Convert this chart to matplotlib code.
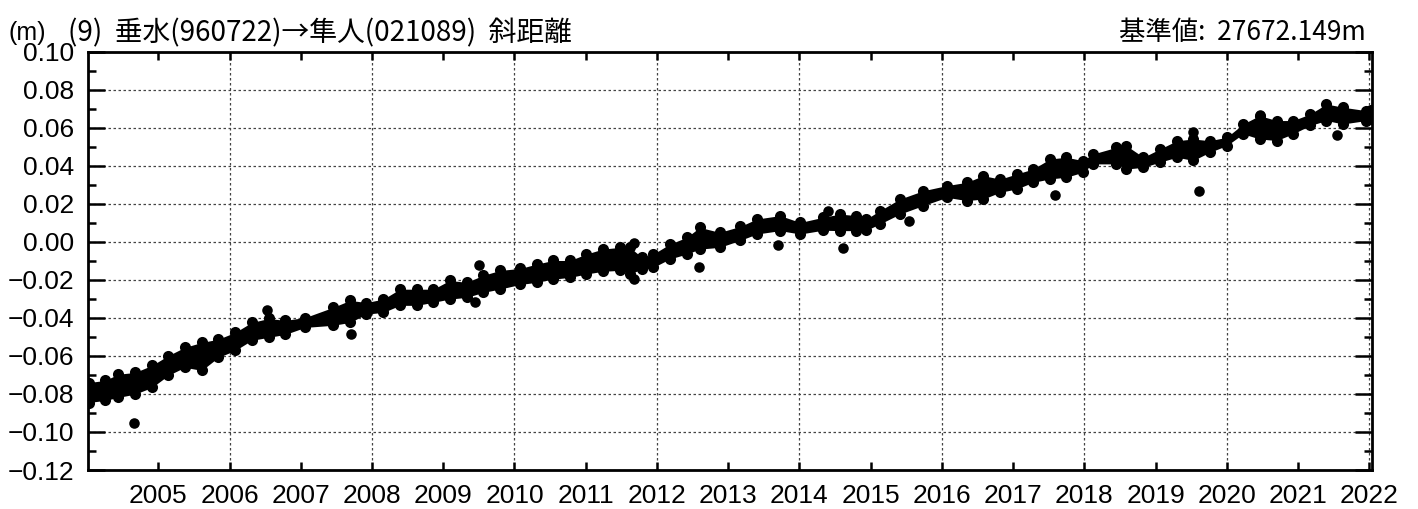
import matplotlib
matplotlib.use('Agg')
import matplotlib.pyplot as plt
from matplotlib.ticker import MultipleLocator, FuncFormatter

plt.rcParams['font.family'] = ['Liberation Sans', 'DejaVu Sans']

# sample times (decimal year) of the dense daily band
t = [2004.02, 2004.25, 2004.44, 2004.67, 2004.91, 2005.14, 2005.37, 2005.61, 2005.84,
     2006.08, 2006.31, 2006.55, 2006.78, 2007.06, 2007.45, 2007.69, 2007.92, 2008.16,
     2008.39, 2008.63, 2008.86, 2009.09, 2009.33, 2009.56, 2009.80, 2010.08, 2010.31,
     2010.54, 2010.78, 2011.01, 2011.24, 2011.48, 2011.62, 2011.79, 2011.95, 2012.18,
     2012.42, 2012.60, 2012.88, 2013.17, 2013.40, 2013.73, 2014.01, 2014.33, 2014.57,
     2014.80, 2014.94, 2015.13, 2015.41, 2015.74, 2016.07, 2016.35, 2016.58, 2016.82,
     2017.05, 2017.28, 2017.52, 2017.75, 2017.98, 2018.12, 2018.45, 2018.59, 2018.83,
     2019.06, 2019.30, 2019.53, 2019.76, 2020.00, 2020.23, 2020.46, 2020.70, 2020.93,
     2021.17, 2021.40, 2021.63, 2021.96, 2022.03]
# upper part of the band (m)
hi = [-0.0740, -0.0729, -0.0696, -0.0687, -0.0650, -0.0598, -0.0555, -0.0529, -0.0512,
      -0.0476, -0.0424, -0.0403, -0.0413, -0.0398, -0.0345, -0.0308, -0.0319, -0.0301,
      -0.0249, -0.0249, -0.0249, -0.0203, -0.0213, -0.0176, -0.0150, -0.0140, -0.0117,
      -0.0098, -0.0098, -0.0064, -0.0038, -0.0029, -0.0029, -0.0082, -0.0064, -0.0012,
      0.0024, 0.0076, 0.0050, 0.0081, 0.0120, 0.0138, 0.0102, 0.0129, 0.0146,
      0.0138, 0.0120, 0.0164, 0.0225, 0.0269, 0.0296, 0.0313, 0.0348, 0.0330,
      0.0357, 0.0383, 0.0436, 0.0445, 0.0427, 0.0462, 0.0497, 0.0506, 0.0445,
      0.0488, 0.0532, 0.0541, 0.0532, 0.0550, 0.0620, 0.0664, 0.0638, 0.0638,
      0.0672, 0.0725, 0.0708, 0.0690, 0.0692]
# lower part of the band (m)
lo = [-0.0845, -0.0834, -0.0818, -0.0801, -0.0766, -0.0702, -0.0660, -0.0676, -0.0608,
      -0.0571, -0.0518, -0.0502, -0.0487, -0.0450, -0.0439, -0.0424, -0.0380, -0.0371,
      -0.0334, -0.0334, -0.0318, -0.0301, -0.0292, -0.0266, -0.0248, -0.0224, -0.0213,
      -0.0196, -0.0187, -0.0169, -0.0155, -0.0150, -0.0169, -0.0143, -0.0134, -0.0090,
      -0.0064, -0.0038, -0.0029, 0.0008, 0.0041, 0.0059, 0.0041, 0.0061, 0.0059,
      0.0059, 0.0061, 0.0094, 0.0146, 0.0191, 0.0234, 0.0217, 0.0225, 0.0261,
      0.0278, 0.0313, 0.0331, 0.0340, 0.0366, 0.0410, 0.0410, 0.0383, 0.0392,
      0.0419, 0.0445, 0.0428, 0.0471, 0.0506, 0.0568, 0.0541, 0.0533, 0.0568,
      0.0612, 0.0638, 0.0620, 0.0638, 0.0645]
# isolated points
out_t = [2004.66, 2006.52, 2007.71, 2009.45, 2009.50, 2011.68, 2011.68, 2012.59,
         2013.70, 2014.40, 2014.61, 2015.54, 2017.59, 2019.53, 2019.61, 2020.46, 2021.55]
out_v = [-0.0955, -0.0358, -0.0486, -0.0314, -0.0121, -0.0004, -0.0197, -0.0130,
         -0.0016, 0.0160, -0.0033, 0.0110, 0.0247, 0.0577, 0.0265, 0.0668, 0.0563]

title_left = "(9)  垂水(960722)→隼人(021089)  斜距離"
title_right = "基準値:  27672.149m"
unit = "(m)"

fig = plt.figure(figsize=(14.18, 5.09), dpi=100)
ax = fig.add_axes([0.0623, 0.0766, 0.9050, 0.8218])

ax.fill_between(t, lo, hi, color='black', lw=0, zorder=3)
ax.plot(t, hi, 'o', color='black', ms=8, mew=0, zorder=3)
ax.plot(t, lo, 'o', color='black', ms=8, mew=0, zorder=3)
ax.plot(out_t, out_v, 'o', color='black', ms=7.6, mew=0, zorder=3)

ax.set_xlim(2004.017, 2022.034)
ax.set_ylim(-0.12, 0.10)

yearfmt = FuncFormatter(lambda v, p: f"{int(round(v))}")
ax.xaxis.set_major_locator(MultipleLocator(2))
ax.xaxis.set_minor_locator(MultipleLocator(1))
ax.xaxis.set_major_formatter(yearfmt)
ax.xaxis.set_minor_formatter(yearfmt)


def yfmt(v, p):
    s = f"{abs(v):.2f}"
    return ("\u2212" + s) if v < -1e-9 else s


ax.yaxis.set_major_locator(MultipleLocator(0.02))
ax.yaxis.set_minor_locator(MultipleLocator(0.01))
ax.yaxis.set_major_formatter(FuncFormatter(yfmt))

ax.tick_params(axis='x', which='both', direction='in', top=True, bottom=True,
               length=5.8, width=1.8, labelsize=19, pad=10)
ax.tick_params(axis='y', which='major', direction='in', left=True, right=True,
               length=12.5, width=1.8, labelsize=19, pad=10)
ax.tick_params(axis='y', which='minor', direction='in', left=True, right=True,
               length=5.8, width=1.8)

ax.grid(which='major', linestyle=(0, (2, 2)), color='#444444', linewidth=0.9)
for s in ax.spines.values():
    s.set_linewidth(2.0)

fig.text(8 / 1418, 1 - 33 / 509, unit, fontsize=18, va='center', ha='left')
fig.text(68 / 1418, 1 - 33 / 509, title_left, fontsize=20, va='center', ha='left',
         family=['Noto Sans CJK JP', 'DejaVu Sans'])
fig.text(1366 / 1418, 1 - 33 / 509, title_right, fontsize=19, va='center', ha='right',
         family=['Noto Sans CJK JP', 'DejaVu Sans'])

fig.savefig('out.png', dpi=100)
